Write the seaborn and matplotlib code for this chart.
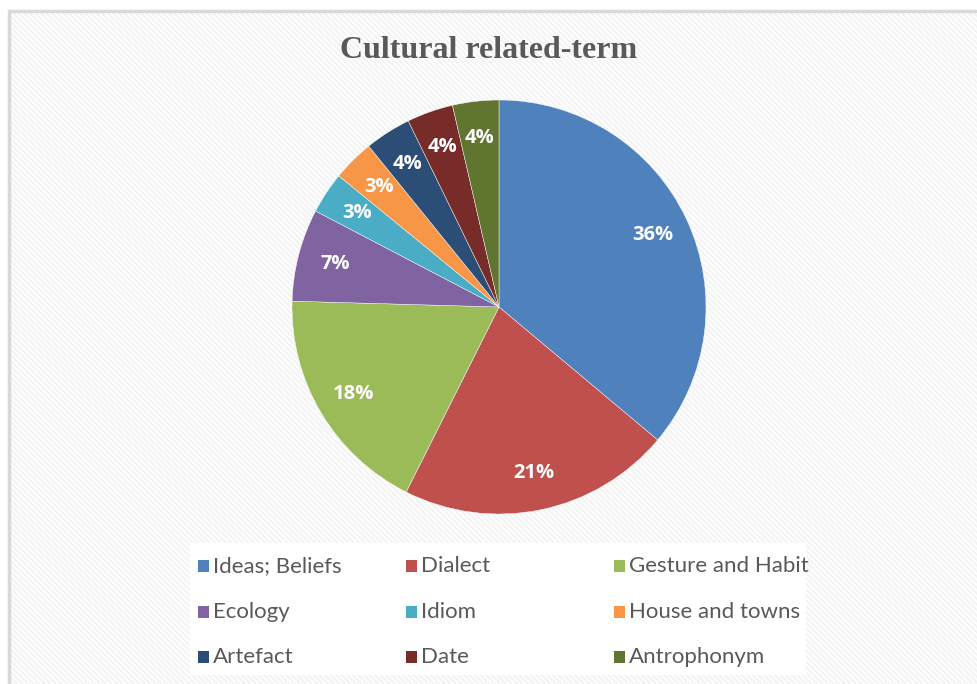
import matplotlib
matplotlib.use("Agg")
import matplotlib.pyplot as plt
from matplotlib.patches import Rectangle
import seaborn as sns

categories = ["Ideas; Beliefs", "Dialect", "Gesture and Habit", "Ecology", "Idiom",
              "House and towns", "Artefact", "Date", "Antrophonym"]
values = [100, 59, 50, 20, 9, 9, 10, 10, 10]
colors = ["#4F81BD", "#C0504D", "#9BBB59", "#8064A2", "#4BACC6",
          "#F79646", "#2C4D75", "#772C2A", "#5F7530"]
title = "Cultural related-term"

sns.set_theme(style="white")
plt.rcParams["font.family"] = ["Lato", "DejaVu Sans"]
plt.rcParams["hatch.linewidth"] = 1.5

W, H = 977, 684
fig = plt.figure(figsize=(W / 100, H / 100), dpi=100)
fig.patch.set_facecolor("white")

# background hatch panel
bg = Rectangle((9 / W, 0), 1.2, 1 - 11 / H, transform=fig.transFigure,
               facecolor="white", edgecolor="#f3f3f3", linewidth=0,
               hatch="\\" * 6, zorder=0)
fig.add_artist(bg)
# border
bd = Rectangle((9 / W, -0.1), 1.2, 1.1 - 11 / H, transform=fig.transFigure,
               facecolor="none", edgecolor="#d9d9d9", linewidth=2.5, zorder=0.5)
fig.add_artist(bd)

# legend white box
lb = Rectangle((190 / W, 1 - 675 / H), (806 - 190) / W, (675 - 543) / H,
               transform=fig.transFigure, facecolor="white", edgecolor="none", zorder=1)
fig.add_artist(lb)

cx, cy, r = 499, 307, 207
ax = fig.add_axes([(cx - r) / W, (H - cy - r) / H, 2 * r / W, 2 * r / H])
ax.set_facecolor("none")
palette = sns.color_palette(colors)
wedges, texts, autotexts = ax.pie(values, colors=palette, startangle=90, counterclock=False,
                                  autopct="%.0f%%", pctdistance=0.82,
                                  wedgeprops=dict(linewidth=0.3, edgecolor="white"),
                                  textprops=dict(color="white", fontsize=14.5, fontweight="bold",
                                                 family=["Open Sans", "DejaVu Sans"]))
ax.set_xlim(-1, 1)
ax.set_ylim(-1, 1)
ax.axis("off")

fig.text(0.5, 1 - 51 / H, title, ha="center", va="center", fontsize=23, fontweight="bold",
         color="#595959", family=["Liberation Serif", "DejaVu Serif"])

for i, (lab, col) in enumerate(zip(categories, colors)):
    row, c = divmod(i, 3)
    x = 198 + c * 208
    y = 566 + row * 45.5
    fig.add_artist(Rectangle((x / W, 1 - (y + 6) / H), 11 / W, 12 / H,
                             transform=fig.transFigure, facecolor=col, edgecolor="none", zorder=2))
    fig.text((x + 15) / W, 1 - y / H, lab, ha="left", va="center", fontsize=16,
             color="#595959", zorder=3)

fig.savefig("out.png", dpi=100)
